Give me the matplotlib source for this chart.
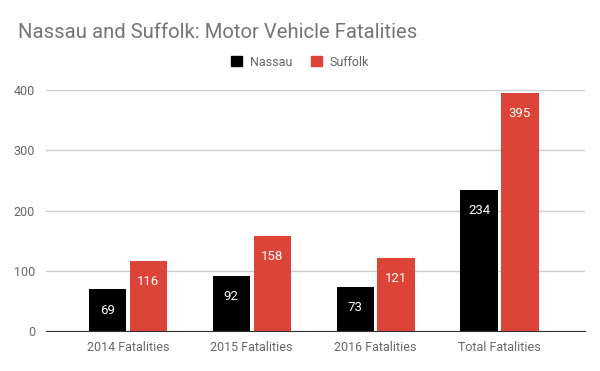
import matplotlib.pyplot as plt
import numpy as np
from matplotlib.patches import Patch

categories = ["2014 Fatalities", "2015 Fatalities", "2016 Fatalities", "Total Fatalities"]
nassau = [69, 92, 73, 234]
suffolk = [116, 158, 121, 395]

BLACK = "#000000"
RED = "#db4437"
plt.rcParams["font.family"] = ["Roboto", "DejaVu Sans"]

fig = plt.figure(figsize=(6, 3.71), dpi=100)
# plot area in pixels: x 46..585, y 90..331 (image is 371 tall)
ax = fig.add_axes([46 / 600, 1 - 331 / 371, (585 - 46) / 600, (331 - 90) / 371])

x = np.arange(len(categories))
w = 0.3
off = 0.165
b1 = ax.bar(x - off, nassau, w, color=BLACK, zorder=3)
b2 = ax.bar(x + off, suffolk, w, color=RED, zorder=3)

for bars, vals in ((b1, nassau), (b2, suffolk)):
    for b, v in zip(bars, vals):
        ax.annotate(str(v), (b.get_x() + b.get_width() / 2, v), xytext=(0, -15),
                    textcoords="offset points", ha="center", va="center",
                    color="white", fontsize=9.5, zorder=4)

ax.set_xlim(-0.66, 3.69)
ax.set_ylim(0, 400)
ax.set_yticks([0, 100, 200, 300, 400])
ax.set_xticks(x)
ax.set_xticklabels(categories)
ax.yaxis.grid(True, color="#cccccc", linewidth=1, zorder=0)
ax.tick_params(length=0, labelsize=9, colors="#666666")
ax.tick_params(axis="x", pad=7)
ax.tick_params(axis="y", pad=8)
for s in ("top", "right", "left"):
    ax.spines[s].set_visible(False)
ax.spines["bottom"].set_color("#333333")
ax.spines["bottom"].set_zorder(5)

fig.text(18 / 600, 1 - 32 / 371, "Nassau and Suffolk: Motor Vehicle Fatalities",
         fontsize=14.6, color="#757575", va="center", ha="left")

handles = [Patch(color=BLACK, label="Nassau"), Patch(color=RED, label="Suffolk")]
fig.legend(handles=handles, loc="center", bbox_to_anchor=(0.5, 1 - 62 / 371), ncol=2,
           frameon=False, fontsize=9, handlelength=0.9, handleheight=0.9,
           handletextpad=0.6, columnspacing=1.5, labelcolor="#666666")

fig.savefig("out.png", dpi=100)
